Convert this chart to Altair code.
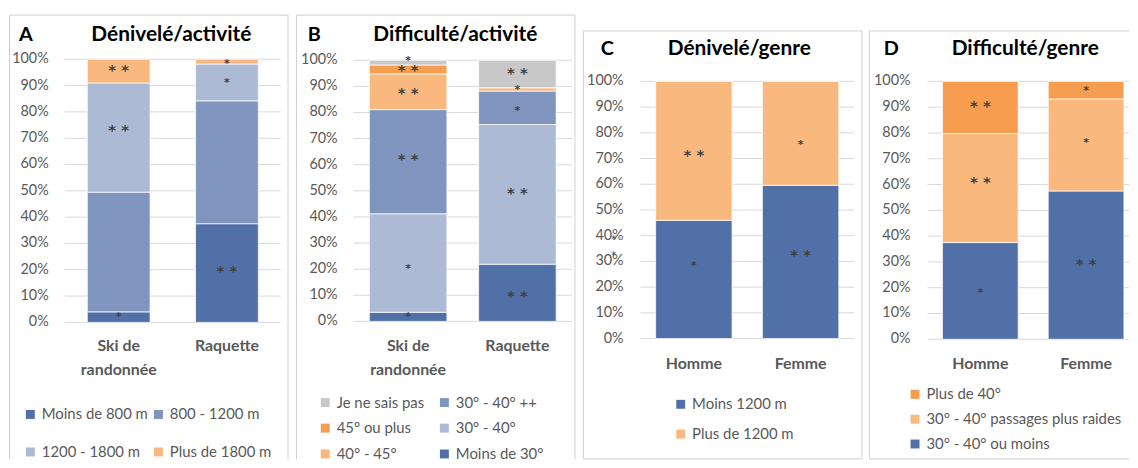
import altair as alt
import pandas as pd

FONT = "Lato"
STAR_FONT = "DejaVu Sans"
TXT = "#595959"
GRID = "#D9D9D9"
FRAME = "#D0D0D0"
STAR = "#404040"

DARK_BLUE = "#5170A7"
MID_BLUE = "#7F95BE"
LIGHT_BLUE = "#ADBAD5"
LIGHT_ORANGE = "#F9B97E"
ORANGE = "#F69D4F"
GREY = "#C8C8C8"

TICKS = [0, 10, 20, 30, 40, 50, 60, 70, 80, 90, 100]

ACT_CATS = ["Ski de randonnée", "Raquette"]
GENRE_CATS = ["Homme", "Femme"]

# ---- Panel A : Dénivelé/activité (series listed bottom -> top)
A_SERIES = ["Moins de 800 m", "800 - 1200 m", "1200 - 1800 m", "Plus de 1800 m"]
A_COLORS = [DARK_BLUE, MID_BLUE, LIGHT_BLUE, LIGHT_ORANGE]
A_SKI = [4.0, 45.5, 41.5, 9.0]
A_RAQUETTE = [37.5, 46.7, 14.0, 1.8]
# legend order (filled column by column)
A_LEGEND = ["Moins de 800 m", "1200 - 1800 m", "800 - 1200 m", "Plus de 1800 m"]
A_STAR_CAT = ["Ski de randonnée"] * 3 + ["Raquette"] * 3
A_STAR_Y = [2.2, 73.3, 96.0, 19.6, 91.3, 98.2]
A_STAR_TXT = ["*", "**", "**", "**", "*", "*"]

# ---- Panel B : Difficulté/activité
B_SERIES = ["Moins de 30°", "30° - 40°", "30° - 40° ++", "40° - 45°", "45° ou plus", "Je ne sais pas"]
B_COLORS = [DARK_BLUE, LIGHT_BLUE, MID_BLUE, LIGHT_ORANGE, ORANGE, GREY]
B_SKI = [3.5, 37.7, 39.9, 13.7, 3.4, 1.8]
B_RAQUETTE = [21.9, 53.5, 12.8, 1.3, 0.0, 10.5]
B_LEGEND = ["Je ne sais pas", "45° ou plus", "40° - 45°", "30° - 40° ++", "30° - 40°", "Moins de 30°"]
B_STAR_CAT = ["Ski de randonnée"] * 6 + ["Raquette"] * 5
B_STAR_Y = [1.9, 20.3, 62.2, 87.6, 96.5, 99.9, 9.9, 49.4, 80.9, 88.9, 95.2]
B_STAR_TXT = ["*", "*", "**", "**", "**", "*", "**", "**", "*", "*", "**"]

# ---- Panel C : Dénivelé/genre
C_SERIES = ["Moins 1200 m", "Plus de 1200 m"]
C_COLORS = [DARK_BLUE, LIGHT_ORANGE]
C_HOMME = [46.0, 54.0]
C_FEMME = [59.6, 40.4]
C_LEGEND = ["Moins 1200 m", "Plus de 1200 m"]
C_STAR_CAT = ["Homme", "Homme", "Femme", "Femme"]
C_STAR_Y = [28.3, 71.4, 32.8, 75.5]
C_STAR_TXT = ["*", "**", "**", "*"]
C_STRAY_Y = [38.7, 32.2]

# ---- Panel D : Difficulté/genre
D_SERIES = ["30° - 40° ou moins", "30° - 40° passages plus raides", "Plus de 40°"]
D_COLORS = [DARK_BLUE, LIGHT_ORANGE, ORANGE]
D_HOMME = [37.5, 42.3, 20.2]
D_FEMME = [57.5, 35.7, 6.8]
D_LEGEND = ["Plus de 40°", "30° - 40° passages plus raides", "30° - 40° ou moins"]
D_STAR_CAT = ["Homme"] * 3 + ["Femme"] * 3
D_STAR_Y = [18.2, 61.2, 90.8, 29.5, 76.4, 96.5]
D_STAR_TXT = ["*", "**", "**", "**", "*", "*"]

H = 452
ONE = pd.DataFrame({"k": [0]})


def stack_table(cats, series, rows):
    recs = []
    for cat, vals in zip(cats, rows):
        base = 0.0
        for s, v in zip(series, vals):
            recs.append({"cat": cat, "series": s, "y0": base, "y1": base + v})
            base += v
    return pd.DataFrame(recs)


def panel(letter, title, cats, series, rows, colors, legend_order,
          star_cat, star_y, star_txt, L, stray_y=None):
    df = stack_table(cats, series, rows)
    cmap = dict(zip(series, colors))
    xsc = alt.Scale(domain=cats, range=[L["bx0"], L["bx1"]],
                    paddingInner=L["pi"], paddingOuter=L["po"])
    ysc = alt.Scale(domain=[0, 100], range=[L["ybot"], L["ytop"]], nice=False, zero=False)

    layers = []
    for (x1, y1, x2, y2) in L["frame"]:
        layers.append(alt.Chart(ONE).mark_rule(color=FRAME, strokeWidth=1).encode(
            x=alt.value(x1), x2=alt.value(x2), y=alt.value(y1), y2=alt.value(y2)))

    ticks_df = pd.DataFrame({"t": TICKS})
    # gridlines
    layers.append(alt.Chart(ticks_df).mark_rule(color=GRID, strokeWidth=1).encode(
        y=alt.Y("t:Q", scale=ysc, axis=None),
        x=alt.value(L["gx0"]), x2=alt.value(L["gx1"])))
    # y tick labels
    layers.append(alt.Chart(ticks_df).transform_calculate(lab="datum.t + '%'").mark_text(
        font=FONT, fontSize=14.5, color=TXT, align="right", baseline="middle").encode(
        y=alt.Y("t:Q", scale=ysc, axis=None), x=alt.value(L["ylab_x"]), text="lab:N"))

    # bars
    layers.append(alt.Chart(df).mark_bar(stroke="white", strokeWidth=0.75).encode(
        x=alt.X("cat:N", sort=cats, scale=xsc, axis=None),
        y=alt.Y("y0:Q", scale=ysc, axis=None),
        y2="y1:Q",
        color=alt.Color("series:N",
                        scale=alt.Scale(domain=legend_order, range=[cmap[s] for s in legend_order]),
                        legend=alt.Legend(orient="none", legendX=L["lx"], legendY=L["ly"],
                                          columns=L["lcols"], title=None, symbolType="square",
                                          symbolSize=81, symbolStrokeWidth=0, labelFont=FONT,
                                          labelFontSize=15, labelColor=TXT, labelOffset=4,
                                          rowPadding=L["lrow"], columnPadding=L["lcol"],
                                          labelLimit=400)),
    ))

    # category labels
    layers.append(alt.Chart(pd.DataFrame({"cat": cats})).transform_calculate(
        lab="replace(datum.cat, 'Ski de ', 'Ski de\\n')").mark_text(
        font=FONT, fontSize=16, fontWeight="bold", color=TXT, align="center", baseline="top",
        lineBreak="\n", lineHeight=24).encode(
        x=alt.X("cat:N", scale=xsc, axis=None), y=alt.value(L["xlab_y"]), text="lab:N"))

    # significance stars
    sdf = pd.DataFrame({"cat": star_cat, "y": star_y, "txt": star_txt})
    layers.append(alt.Chart(sdf).transform_filter("length(datum.txt) > 1").transform_calculate(
        lab="'* *'").mark_text(
        font=STAR_FONT, fontSize=15, fontWeight="bold", color=STAR, baseline="alphabetic",
        dy=5.5).encode(
        x=alt.X("cat:N", scale=xsc, axis=None), y=alt.Y("y:Q", scale=ysc, axis=None), text="lab:N"))
    layers.append(alt.Chart(sdf).transform_filter("length(datum.txt) == 1").mark_text(
        font=STAR_FONT, fontSize=11, fontWeight="bold", color=STAR, baseline="alphabetic",
        dy=3.5).encode(
        x=alt.X("cat:N", scale=xsc, axis=None), y=alt.Y("y:Q", scale=ysc, axis=None), text="txt:N"))
    if stray_y is not None:
        layers.append(alt.Chart(pd.DataFrame({"y": stray_y})).mark_text(
            font=STAR_FONT, fontSize=10, color=STAR, baseline="alphabetic", dy=3.5, text="*").encode(
            x=alt.value(L["stray_x"]), y=alt.Y("y:Q", scale=ysc, axis=None)))

    layers.append(alt.Chart(pd.DataFrame({"s": [letter]})).mark_text(
        font=FONT, fontSize=20, fontWeight="bold", color="black", align="left",
        baseline="alphabetic").encode(text="s:N", x=alt.value(L["letter_x"]), y=alt.value(L["title_y"])))
    layers.append(alt.Chart(pd.DataFrame({"s": [title]})).mark_text(
        font=FONT, fontSize=21, fontWeight="bold", color="black", align="center",
        baseline="alphabetic").encode(text="s:N", x=alt.value(L["title_x"]), y=alt.value(L["title_y"])))

    return alt.layer(*layers).properties(width=L["W"], height=H)


LA = dict(W=287, frame=[(0.5, 4.5, 0.5, H), (0.5, 4.5, 281, 4.5), (281, 4.5, 281, H)],
          gx0=56, gx1=274, bx0=56, bx1=274, pi=0.42, po=0.21, ybot=314, ytop=49,
          ylab_x=40, xlab_y=330, letter_x=10, title_x=163.5, title_y=31,
          lx=14, ly=399, lcols=2, lrow=22, lcol=3)
LB = dict(W=287, frame=[(0.5, 4.5, 0.5, H), (0.5, 4.5, 281, 4.5), (281, 4.5, 281, H)],
          gx0=58, gx1=278, bx0=58, bx1=278, pi=0.29, po=0.145, ybot=313, ytop=50,
          ylab_x=42, xlab_y=330, letter_x=12, title_x=160.5, title_y=31,
          lx=22, ly=387, lcols=2, lrow=10, lcol=12)
LC = dict(W=286, frame=[(0.5, 20.5, 0.5, 451.5), (0.5, 20.5, 281, 20.5), (281, 20.5, 281, 451.5),
                        (0.5, 451.5, 281, 451.5)],
          gx0=58, gx1=273, bx0=58, bx1=273, pi=0.284, po=0.142, ybot=330.3, ytop=71.3,
          ylab_x=41, xlab_y=348, letter_x=18, title_x=157.5, title_y=45,
          lx=91, ly=389, lcols=1, lrow=14, lcol=10, stray_x=31)
LD = dict(W=262, frame=[(0.5, 20.5, 0.5, 451.5), (0.5, 20.5, 262, 20.5), (0.5, 451.5, 262, 451.5)],
          gx0=59, gx1=262, bx0=59, bx1=272, pi=0.284, po=0.142, ybot=331, ytop=71.3,
          ylab_x=42, xlab_y=348, letter_x=15, title_x=157.5, title_y=45,
          lx=39, ly=379, lcols=1, lrow=9, lcol=10)

pA = panel("A", "Dénivelé/activité", ACT_CATS, A_SERIES, [A_SKI, A_RAQUETTE], A_COLORS, A_LEGEND,
           A_STAR_CAT, A_STAR_Y, A_STAR_TXT, LA)
pB = panel("B", "Difficulté/activité", ACT_CATS, B_SERIES, [B_SKI, B_RAQUETTE], B_COLORS, B_LEGEND,
           B_STAR_CAT, B_STAR_Y, B_STAR_TXT, LB)
pC = panel("C", "Dénivelé/genre", GENRE_CATS, C_SERIES, [C_HOMME, C_FEMME], C_COLORS, C_LEGEND,
           C_STAR_CAT, C_STAR_Y, C_STAR_TXT, LC, stray_y=C_STRAY_Y)
pD = panel("D", "Difficulté/genre", GENRE_CATS, D_SERIES, [D_HOMME, D_FEMME], D_COLORS, D_LEGEND,
           D_STAR_CAT, D_STAR_Y, D_STAR_TXT, LD)

chart = (alt.hconcat(pA, pB, pC, pD, spacing=0)
         .resolve_scale(x="independent", y="independent", color="independent")
         .resolve_legend(color="independent")
         .properties(padding=0)
         .configure(font=FONT)
         .configure_view(stroke="transparent"))

chart.save("out.html", embed_options={"renderer": "svg", "actions": False})
